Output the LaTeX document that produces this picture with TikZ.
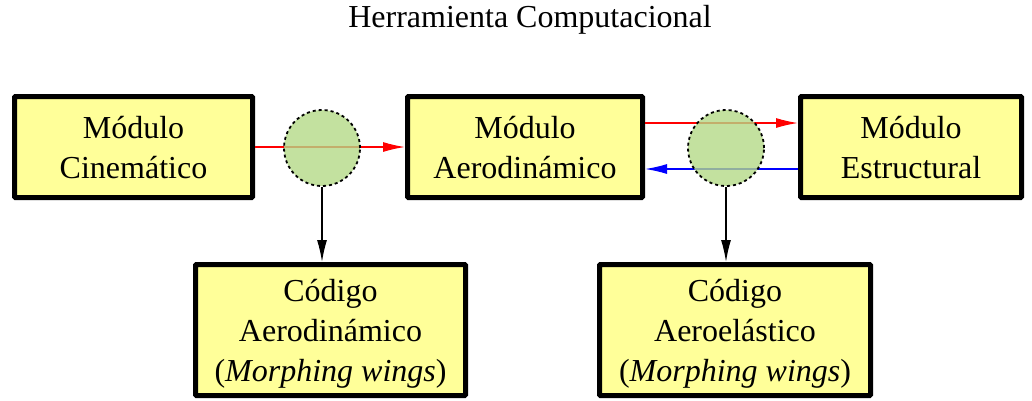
\documentclass[tikz,border=0pt]{standalone}
\usepackage{fontspec}
\setmainfont{Liberation Serif}
\usetikzlibrary{arrows.meta}
\definecolor{boxfill}{RGB}{255,255,153}
\definecolor{circfill}{RGB}{180,218,135}
\begin{document}
\begin{tikzpicture}[x=1pt,y=-1pt,
  font=\fontsize{32}{40}\selectfont,
  box/.style={draw=black,line width=5pt,fill=boxfill,rounded corners=1pt,align=center,inner sep=0pt},
  topbox/.style={box,minimum height=101pt,text depth=-5pt},
  botbox/.style={box,minimum height=131pt,text depth=-10pt},
  junction/.style={circle,draw=black,dashed,line width=1.8pt,fill=circfill,fill opacity=0.8,draw opacity=1,minimum size=76pt,inner sep=0pt},
  arr/.style={line width=1.4pt,-{Latex[length=22pt,width=10pt]}}]
\useasboundingbox (0,0) rectangle (1032,400);
\node (title) at (530,20) {Herramienta Computacional};
\node[topbox,minimum width=238pt] (b1) at (133.5,147) {Módulo\\Cinemático};
\node[topbox,minimum width=235pt] (b2) at (525,147) {Módulo\\Aerodinámico};
\node[topbox,minimum width=221pt] (b3) at (911,147) {Módulo\\Estructural};
\node[botbox,minimum width=270pt] (b4) at (330.5,330) {Código\\Aerodinámico\\(\textit{Morphing wings})};
\node[botbox,minimum width=271pt] (b5) at (735,330) {Código\\Aeroelástico\\(\textit{Morphing wings})};
\draw[arr,red] (b1.east) -- (b2.west);
\draw[arr,red] ([yshift=24pt]b2.east) -- ([yshift=24pt]b3.west);
\draw[arr,blue] ([yshift=-22pt]b3.west) -- ([yshift=-22pt]b2.east);
\node[junction] (c1) at (322,148) {};
\node[junction] (c2) at (726,148) {};
\draw[arr,black] (c1.south) -- (c1.south |- b4.north);
\draw[arr,black] (c2.south) -- (c2.south |- b5.north);
\end{tikzpicture}
\end{document}
